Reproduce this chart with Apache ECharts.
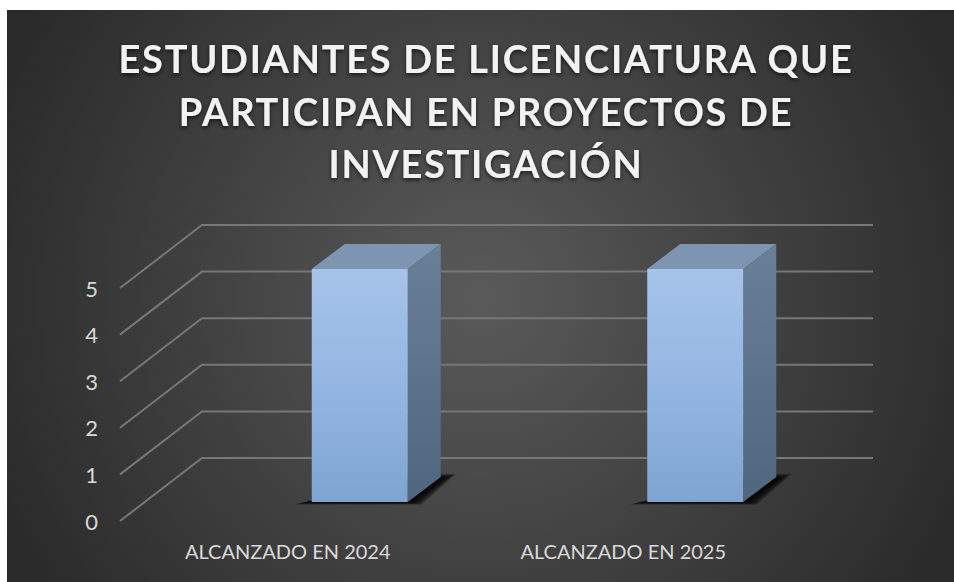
<!DOCTYPE html>
<html><head><meta charset="utf-8">
<script src="https://cdn.jsdelivr.net/npm/echarts@6/dist/echarts.min.js"></script>
<style>
html,body{margin:0;padding:0;background:#fff}
#main{width:954px;height:582px}
#main svg text[style*="bold"]{letter-spacing:1.7px}
</style></head><body><div id="main"></div>
<script>
const titleText = 'ESTUDIANTES DE LICENCIATURA QUE\nPARTICIPAN EN PROYECTOS DE\nINVESTIGACIÓN';
const categories = ['ALCANZADO EN 2024', 'ALCANZADO EN 2025'];
const values = [5, 5];
const yTicks = [0, 1, 2, 3, 4, 5];

const wallDX = 82, wallDY = 63;     // depth of the 3D floor
const barDX = 33, barDY = 25;       // depth of each bar
const barShiftX = 72, barShiftY = 19; // bar front face relative to the front edge of floor
const barRatio = 96 / 335.5;
const shadowSteps = [8, 6.5, 5, 3.5, 2, 0.5, -1]; // widening of the soft floor shadow

const chart = echarts.init(document.getElementById('main'), null, {renderer: 'svg'});
const G = echarts.graphic;

function renderWall(params, api) {
  const y = api.coord([0, api.value(1)])[1];
  const cs = params.coordSys;
  return {
    type: 'polyline',
    shape: {points: [[cs.x, y], [cs.x + wallDX, y - wallDY], [cs.x + cs.width + wallDX, y - wallDY]]},
    style: {stroke: '#777777', lineWidth: 2, fill: null}
  };
}

function renderBar(params, api) {
  const c = api.value(0), v = api.value(1);
  const top = api.coord([c, v]), base = api.coord([c, 0]);
  const w = api.size([1, 0])[0] * barRatio;
  const xl = top[0] + barShiftX - w / 2, xr = xl + w;
  const yt = top[1] - barShiftY, yb = base[1] - barShiftY;
  const shadows = shadowSteps.map(e => ({
    type: 'polygon',
    shape: {points: [
      [xl - 8 - e * 1.2, yb + 0.5 + e * 0.25],
      [xr + 6 + e, yb + 0.5 + e * 0.25],
      [xr + barDX + 6 + e * 1.2, yb - barDY - e * 0.4],
      [xr + barDX - 12 - e, yb - barDY - e * 0.4]
    ]},
    style: {fill: 'rgba(0,0,0,0.24)'}
  }));
  return {
    type: 'group',
    children: shadows.concat([
      {type: 'polygon',
       shape: {points: [[xl, yt], [xl + barDX, yt - barDY], [xr + barDX, yt - barDY], [xr, yt]]},
       style: {fill: '#7e95b1'}},
      {type: 'polygon',
       shape: {points: [[xr, yt], [xr + barDX, yt - barDY], [xr + barDX, yb - barDY], [xr, yb]]},
       style: {fill: new G.LinearGradient(0, 0, 0, 1, [{offset: 0, color: '#6a7f98'}, {offset: 1, color: '#50667f'}])}},
      {type: 'rect',
       shape: {x: xl, y: yt, width: w, height: yb - yt},
       style: {fill: new G.LinearGradient(0, 0, 0, 1, [{offset: 0, color: '#a6c3e9'}, {offset: 0.5, color: '#94b6e2'}, {offset: 1, color: '#7fa4d0'}])}}
    ])
  };
}

chart.setOption({
  animation: false,
  backgroundColor: '#ffffff',
  graphic: [{
    type: 'rect', z: -10, silent: true,
    shape: {x: 7, y: 10, width: 947, height: 572},
    style: {fill: new G.RadialGradient(480, 296, 530, [{offset: 0, color: '#5a5a5a'}, {offset: 1, color: '#2a2a2a'}], true)}
  }],
  title: {
    text: titleText, left: 481, top: 27, textAlign: 'center',
    textStyle: {
      fontFamily: 'Lato', fontWeight: 'bold', fontSize: 38, lineHeight: 52.5, color: '#f2f2f2',
      textShadowColor: 'rgba(0,0,0,0.65)', textShadowBlur: 4, textShadowOffsetY: 2
    }
  },
  grid: {left: 120, right: 163, top: 288, bottom: 61},
  xAxis: {
    type: 'category', data: categories,
    axisLine: {show: false}, axisTick: {show: false}, splitLine: {show: false},
    axisLabel: {color: '#d9d9d9', fontFamily: 'Lato', fontSize: 20, margin: 20}
  },
  yAxis: {
    type: 'value', min: 0, max: 5, interval: 1,
    axisLine: {show: false}, axisTick: {show: false}, splitLine: {show: false},
    axisLabel: {color: '#d9d9d9', fontFamily: 'Lato', fontSize: 22, margin: 22}
  },
  series: [
    {type: 'custom', silent: true, clip: false, renderItem: renderWall, encode: {x: 0, y: 1},
     data: yTicks.map(t => [0, t]), z: 1},
    {type: 'custom', clip: false, renderItem: renderBar, encode: {x: 0, y: 1},
     data: values.map((v, i) => [i, v]), z: 3}
  ]
});
</script></body></html>
